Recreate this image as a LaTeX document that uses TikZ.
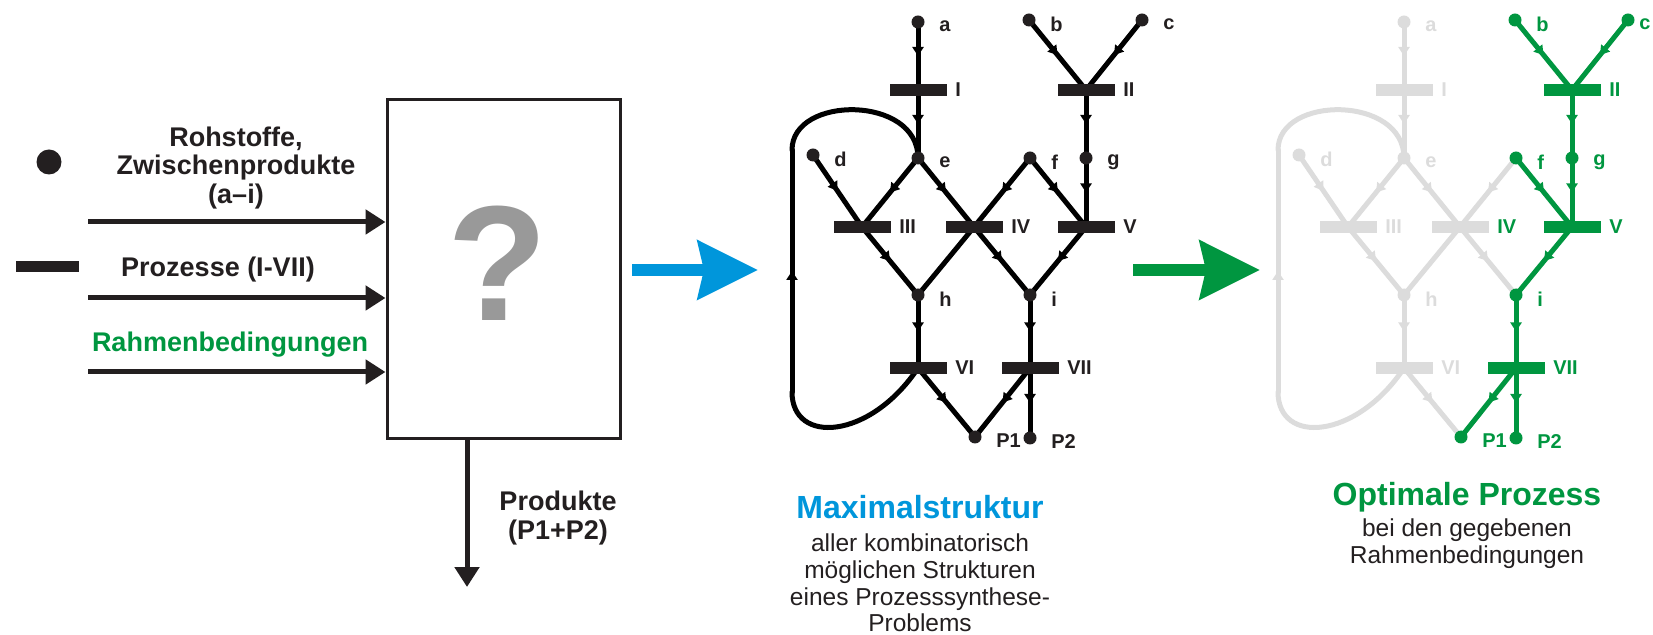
\documentclass[tikz,border=0pt]{standalone}
\usepackage{fontspec}
\setmainfont{Liberation Sans}
\usepackage{xcolor}
\usepackage{tikz}
\usetikzlibrary{positioning,backgrounds,arrows.meta,decorations.markings}

\definecolor{schwarz}{HTML}{231F20}
\definecolor{grau}{HTML}{DCDCDC}
\definecolor{gruen}{HTML}{009640}
\definecolor{blau}{HTML}{0096DB}
\definecolor{fragegrau}{HTML}{999999}

\begin{document}
\begin{tikzpicture}[x=0.5pt, y=-0.5pt, >={Triangle[length=10pt,width=12pt]}, color=schwarz,
  stoff/.style={circle, fill, inner sep=0pt, minimum size=6.5pt},
  proz/.style={rectangle, fill, inner sep=0pt, minimum width=28.5pt, minimum height=6pt},
  lbl/.style={font=\bfseries\fontsize{10}{12}\selectfont, inner sep=1pt},
  linie/.style={line width=2.5pt, line cap=round},
  fluss/.style={linie, postaction={decorate},
    decoration={markings, mark=at position 0.5 with {\arrow{Triangle[length=4.5pt,width=5.5pt]}}}},
  pfeil/.style={line width=2.5pt, ->},
  gross/.style={line width=6pt, -{Stealth[length=30pt,width=29pt,inset=3pt]}},
  txt/.style={font=\bfseries\fontsize{13.5}{14.25}\selectfont, align=center},
  titel/.style={font=\bfseries\fontsize{16}{18}\selectfont, align=center},
  untertitel/.style={font=\fontsize{12.25}{13.4}\selectfont, align=center}]

\useasboundingbox (0,0) rectangle (1653,635);

% legende und black box
\node [stoff, minimum size=12.5pt] (leg-stoff) at (49,162) {};
\node [proz, minimum width=31.5pt, minimum height=5.5pt] (leg-proz) at (47,267) {};

\node (blackbox) [draw, line width=1.5pt, minimum width=116.5pt, minimum height=169.5pt] at (503.5,269.5) {};
\node (frage) [text=fragegrau, font=\bfseries\fontsize{82}{82}\selectfont] at (498,263) {?};

\node (rohstoffe) [txt] at (236,168) {Rohstoffe,\\Zwischenprodukte\\(a–i)};
\node (prozesse) [txt] at (218,270) {Prozesse (I-VII)};
\node (rahmen) [txt, text=gruen] at (230,345) {Rahmenbedingungen};
\node (produkte) [txt] at (558,518) {Produkte\\(P1+P2)};

\foreach \y [count=\i] in {222,298,372}
  \coordinate (ein-\i) at (88,\y);
\foreach \i in {1,2,3}
  \draw [pfeil] (ein-\i) -- (ein-\i -| blackbox.west);

\coordinate (aus) at (467,587);
\draw [pfeil] (aus |- blackbox.south) -- (aus);

% grosse pfeile
\coordinate (blau-a) at (632,270);
\coordinate (blau-b) at (758,270);
\draw [gross, blau] (blau-a) -- (blau-b);
\coordinate (gruen-a) at (1133,270);
\coordinate (gruen-b) at (1260,270);
\draw [gross, gruen] (gruen-a) -- (gruen-b);

% maximalstruktur
\foreach \n/\x/\y in {a/918/22, b/1029/20, c/1142/20, d/813/155, e/918/158, f/1030/158, g/1086/158, h/918/295, i/1030/295, P1/975/437, P2/1030/438}
  \node [stoff, label={[lbl, xshift=6pt, yshift=-2pt]right:\n}] (m-\n) at (\x,\y) {};

\foreach \n/\x/\y in {I/918/90, II/1086/90, III/862/227, IV/974/227, V/1086/227, VI/918/368, VII/1030/368}
  \node [proz, label={[lbl, xshift=3pt]right:\n}] (m-\n) at (\x,\y) {};

\coordinate (m-lu) at (792,392);
\coordinate (m-lo) at (792,150);

\begin{scope}[on background layer]
\foreach \s/\t in {a/I, I/e, b/II, c/II, II/g, g/V, d/III, e/III, e/IV, f/IV, f/V, III/h, IV/i, V/i, h/VI, i/VII, VI/P1, VII/P1, VII/P2}
  \draw [fluss] (m-\s.center) -- (m-\t.center);
\draw [linie] (m-IV.center) -- (m-h.center);
\draw [linie] (m-VI.center) .. controls (870,440) and (792,445) .. (m-lu);
\draw [fluss] (m-lu) -- (m-lo);
\draw [linie] (m-lo) .. controls (792,95) and (918,95) .. (m-e.center);
\end{scope}

\node (max-titel) [titel, text=blau] at (920,507) {Maximalstruktur};
\node (max-text) [untertitel] at (920,583) {aller kombinatorisch\\möglichen Strukturen\\eines Prozesssynthese-\\Problems};

% optimaler prozess
\foreach \n/\x/\y/\f/\d in {a/918/22/grau/6pt, b/1029/20/gruen/6pt, c/1142/20/gruen/1pt, d/813/155/grau/6pt, e/918/158/grau/6pt, f/1030/158/gruen/6pt, g/1086/158/gruen/6pt, h/918/295/grau/6pt, i/1030/295/gruen/6pt, P1/975/437/gruen/6pt, P2/1030/438/gruen/6pt}
  \node [stoff, fill=\f, label={[lbl, text=\f, xshift=\d, yshift=-2pt]right:\n}] (o-\n) at (\x+486,\y) {};

\foreach \n/\x/\y/\f/\l in {I/918/90/grau/grau, II/1086/90/gruen/gruen, III/862/227/grau/grau, IV/974/227/grau/gruen, V/1086/227/gruen/gruen, VI/918/368/grau/grau, VII/1030/368/gruen/gruen}
  \node [proz, fill=\f, label={[lbl, text=\l, xshift=3pt]right:\n}] (o-\n) at (\x+486,\y) {};

\coordinate (o-lu) at (1278,392);
\coordinate (o-lo) at (1278,150);

\begin{scope}[on background layer]
\foreach \s/\t in {a/I, I/e, d/III, e/III, e/IV, f/IV, III/h, IV/i, h/VI, VI/P1}
  \draw [fluss, grau] (o-\s.center) -- (o-\t.center);
\draw [linie, grau] (o-IV.center) -- (o-h.center);
\draw [linie, grau] (o-VI.center) .. controls (1356,440) and (1278,445) .. (o-lu);
\draw [fluss, grau] (o-lu) -- (o-lo);
\draw [linie, grau] (o-lo) .. controls (1278,95) and (1404,95) .. (o-e.center);
\foreach \s/\t in {b/II, c/II, II/g, g/V, f/V, V/i, i/VII, VII/P1, VII/P2}
  \draw [fluss, gruen] (o-\s.center) -- (o-\t.center);
\end{scope}

\node (opt-titel) [titel, text=gruen] at (1467,497) {Optimale Prozess};
\node (opt-text) [untertitel] at (1467,544) {bei den gegebenen\\Rahmenbedingungen};

\end{tikzpicture}
\end{document}
